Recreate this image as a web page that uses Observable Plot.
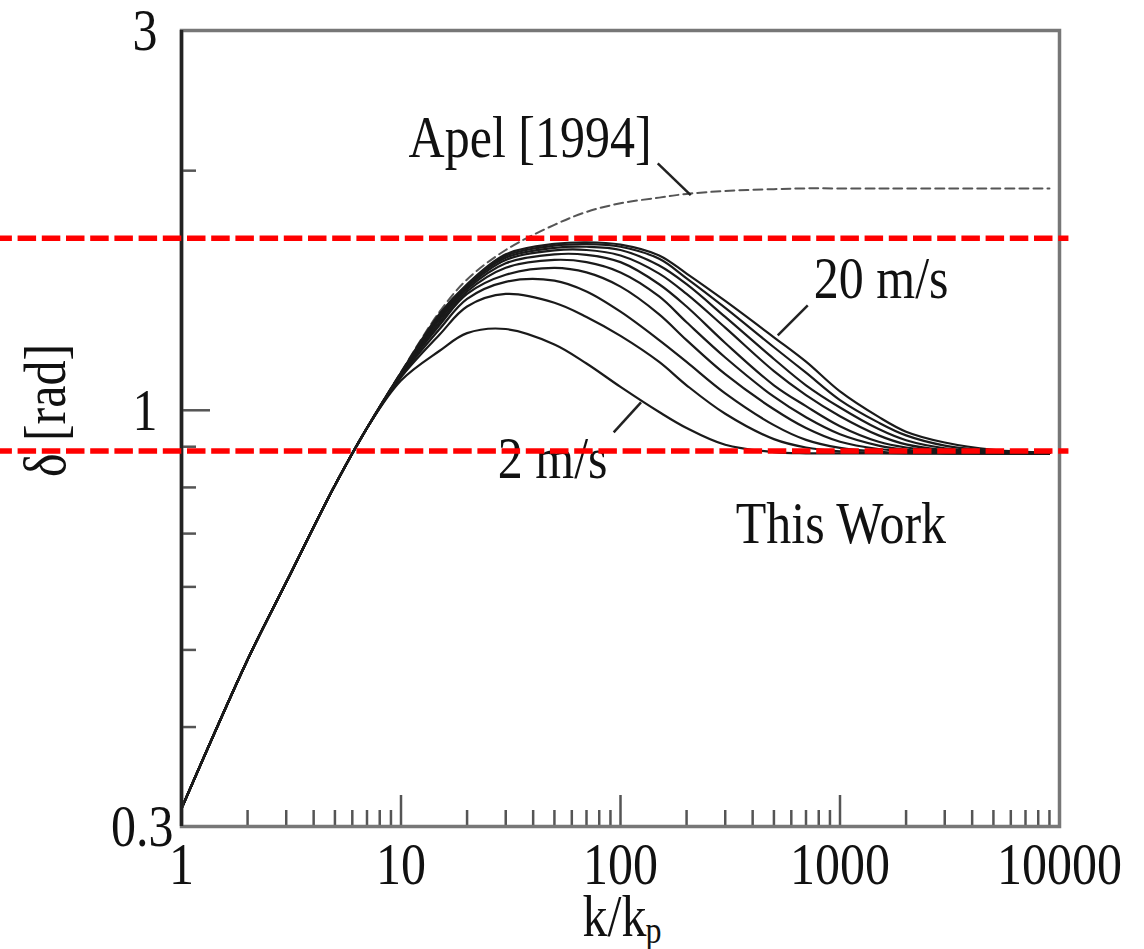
<!DOCTYPE html>
<html>
<head>
<meta charset="utf-8">
<script src="https://cdn.jsdelivr.net/npm/d3@7"></script>
<script src="https://cdn.jsdelivr.net/npm/@observablehq/plot@0.6"></script>
<style>
html, body { margin: 0; padding: 0; background: #fff; }
</style>
</head>
<body>
<div id="chart"></div>
<script>
// wavenumber ratio k/kp (shared grid)
const k = [1, 2, 3, 5, 7, 10, 15, 20, 30, 50, 70, 100, 150, 200, 300, 500, 700, 1000, 1500, 2000, 3000, 5000, 9000];

// wind speeds (m/s) of the "This Work" family
const speeds = ["2", "4", "6", "8", "10", "12", "14", "16", "18", "20"];

// delta [rad], one list per wind speed
const delta2  = [0.316, 0.486, 0.608, 0.805, 0.950, 1.090, 1.188, 1.250, 1.265, 1.210, 1.145, 1.070, 0.995, 0.950, 0.905, 0.886, 0.883, 0.883, 0.883, 0.883, 0.883, 0.883, 0.883];
const delta4  = [0.316, 0.486, 0.608, 0.805, 0.950, 1.100, 1.245, 1.350, 1.400, 1.365, 1.310, 1.240, 1.150, 1.075, 0.990, 0.920, 0.898, 0.888, 0.884, 0.883, 0.883, 0.883, 0.883];
const delta6  = [0.316, 0.486, 0.608, 0.805, 0.950, 1.104, 1.265, 1.380, 1.450, 1.455, 1.410, 1.330, 1.225, 1.150, 1.050, 0.958, 0.918, 0.897, 0.887, 0.884, 0.883, 0.883, 0.883];
const delta8  = [0.316, 0.486, 0.608, 0.805, 0.950, 1.107, 1.280, 1.400, 1.480, 1.510, 1.490, 1.430, 1.320, 1.225, 1.110, 1.003, 0.950, 0.913, 0.894, 0.888, 0.884, 0.883, 0.883];
const delta10 = [0.316, 0.486, 0.608, 0.805, 0.950, 1.109, 1.290, 1.410, 1.510, 1.545, 1.535, 1.490, 1.390, 1.290, 1.165, 1.040, 0.980, 0.933, 0.903, 0.892, 0.886, 0.883, 0.883];
const delta12 = [0.316, 0.486, 0.608, 0.805, 0.950, 1.110, 1.300, 1.420, 1.530, 1.570, 1.568, 1.535, 1.440, 1.350, 1.215, 1.075, 1.012, 0.955, 0.913, 0.898, 0.888, 0.884, 0.883];
const delta14 = [0.316, 0.486, 0.608, 0.805, 0.950, 1.112, 1.308, 1.428, 1.545, 1.588, 1.590, 1.565, 1.485, 1.400, 1.270, 1.120, 1.045, 0.983, 0.930, 0.906, 0.891, 0.885, 0.883];
const delta16 = [0.316, 0.486, 0.608, 0.805, 0.950, 1.113, 1.313, 1.433, 1.555, 1.600, 1.605, 1.590, 1.520, 1.440, 1.310, 1.160, 1.075, 1.008, 0.947, 0.917, 0.896, 0.887, 0.883];
const delta18 = [0.316, 0.486, 0.608, 0.805, 0.950, 1.114, 1.318, 1.437, 1.563, 1.610, 1.617, 1.605, 1.550, 1.465, 1.345, 1.200, 1.115, 1.030, 0.965, 0.930, 0.903, 0.889, 0.884];
const delta20 = [0.316, 0.486, 0.608, 0.805, 0.950, 1.115, 1.322, 1.440, 1.570, 1.618, 1.626, 1.615, 1.565, 1.485, 1.372, 1.235, 1.151, 1.056, 0.981, 0.940, 0.911, 0.892, 0.884];

// Apel [1994] curve
const apel = [0.316, 0.486, 0.608, 0.805, 0.950, 1.117, 1.330, 1.460, 1.590, 1.710, 1.775, 1.820, 1.850, 1.870, 1.886, 1.896, 1.900, 1.900, 1.900, 1.900, 1.900, 1.900, 1.900];

// red dashed reference levels
const refLevels = [1.645, 0.889];

// ticks
const xMajor = [10, 100, 1000];
const xMinor = [2,3,4,5,6,7,8,9, 20,30,40,50,60,70,80,90, 200,300,400,500,600,700,800,900, 2000,3000,4000,5000,6000,7000,8000,9000];
const xLabels = [1, 10, 100, 1000, 10000];
const yMajor = [1];
const yMinor = [0.4, 0.5, 0.6, 0.7, 0.8, 0.9, 2];
const yLabels = [1, 3];
const yLabelsLow = [0.3];

// annotations
const noteText = ["Apel [1994]", "20 m/s", "2 m/s", "This Work"];
const noteK = [10.83, 760, 27.6, 335];
const noteD = [2.078, 1.382, 0.821, 0.681];
const leadK1 = [147.8, 713, 124];
const leadD1 = [2.043, 1.355, 1.023];
const leadK2 = [208.9, 520.6, 93.1];
const leadD2 = [1.863, 1.242, 0.938];

const series = [delta2, delta4, delta6, delta8, delta10, delta12, delta14, delta16, delta18, delta20];
const rows = [];
series.forEach((vals, j) => vals.forEach((d, i) => rows.push({k: k[i], d, s: speeds[j]})));
const apelRows = k.map((kk, i) => ({k: kk, d: apel[i]}));
const notes = noteText.map((t, i) => ({t, k: noteK[i], d: noteD[i]}));
const leads = leadK1.map((_, i) => ({k1: leadK1[i], d1: leadD1[i], k2: leadK2[i], d2: leadD2[i]}));

const serif = "'Liberation Serif', 'Times New Roman', serif";
const fmt = d => String(d);

const chart = Plot.plot({
  width: 1144,
  height: 949,
  marginLeft: 181,
  marginRight: 85,
  marginTop: 30,
  marginBottom: 123,
  style: {fontFamily: serif, background: "#fff", color: "#111", overflow: "visible"},
  x: {type: "log", domain: [1, 10000], axis: null},
  y: {type: "log", domain: [0.3, 3], axis: null},
  marks: [
    Plot.line(apelRows, {x: "k", y: "d", stroke: "#555", strokeWidth: 2, strokeDasharray: "9,5", curve: "catmull-rom"}),
    Plot.line(rows, {x: "k", y: "d", z: "s", stroke: "#1a1a1a", strokeWidth: 2.2, curve: "catmull-rom"}),
    Plot.link(leads, {x1: "k1", y1: "d1", x2: "k2", y2: "d2", stroke: "#222", strokeWidth: 2.5}),
    Plot.text(notes, {x: "k", y: "d", text: "t", textAnchor: "start", lineAnchor: "bottom", fontSize: 50, fill: "#111"}),
    // ticks (inward)
    Plot.axisX(xMajor, {anchor: "bottom", tickSize: -31, tickFormat: () => "", label: null, stroke: "#555", strokeWidth: 2.5}),
    Plot.axisX(xMinor, {anchor: "bottom", tickSize: -16, tickFormat: () => "", label: null, stroke: "#555", strokeWidth: 2.5}),
    Plot.axisY(yMajor, {anchor: "left", tickSize: -29, tickFormat: () => "", label: null, stroke: "#555", strokeWidth: 2.5}),
    Plot.axisY(yMinor, {anchor: "left", tickSize: -15, tickFormat: () => "", label: null, stroke: "#555", strokeWidth: 2.5}),
    // tick labels
    Plot.axisX(xLabels, {anchor: "bottom", tickSize: 0, tickPadding: 15, tickFormat: fmt, label: null, fontSize: 50, fill: "#111"}),
    Plot.axisY(yLabels, {anchor: "left", tickSize: 0, tickPadding: 24, tickFormat: fmt, label: null, fontSize: 50, fill: "#111"}),
    Plot.axisY(yLabelsLow, {anchor: "left", tickSize: 0, tickPadding: 8, tickFormat: fmt, label: null, fontSize: 50, fill: "#111"}),
    // axis titles
    Plot.text(["k/k"], {frameAnchor: "bottom", dx: -38, dy: 109, textAnchor: "start", lineAnchor: "bottom", fontSize: 50, fill: "#111"}),
    Plot.text(["p"], {frameAnchor: "bottom", dx: 25, dy: 116, textAnchor: "start", lineAnchor: "bottom", fontSize: 32, fill: "#111"}),
    Plot.text(["δ [rad]"], {frameAnchor: "left", dx: -136, dy: -18, rotate: -90, textAnchor: "middle", lineAnchor: "middle", fontSize: 50, fill: "#111", ariaLabel: "ylabel"}),
    // frame
    Plot.frame({stroke: "#777", strokeWidth: 3.5}),
    Plot.ruleX([1], {stroke: "#222", strokeWidth: 3.5}),
    // red dashed reference lines, running past the frame
    Plot.ruleY(refLevels, {x1: 0.1496, x2: 11040, stroke: "#ff0000", strokeWidth: 5.5, strokeDasharray: "18.5,5.7", strokeDashoffset: 6.5})
  ]
});

document.getElementById("chart").appendChild(chart);

// the reference's lettering is vertically stretched: scale glyphs 1.2x along y
d3.select(chart).selectAll('g[aria-label="x-axis tick label"] text, g[aria-label="y-axis tick label"] text, g[aria-label="text"] text')
  .attr("transform", function () { return (this.getAttribute("transform") || "") + " scale(1,1.2)"; });
d3.select(chart).selectAll('g[aria-label="ylabel"] text')
  .attr("transform", function () { return (this.getAttribute("transform") || "") + " scale(1.2,1)"; });
</script>
</body>
</html>
